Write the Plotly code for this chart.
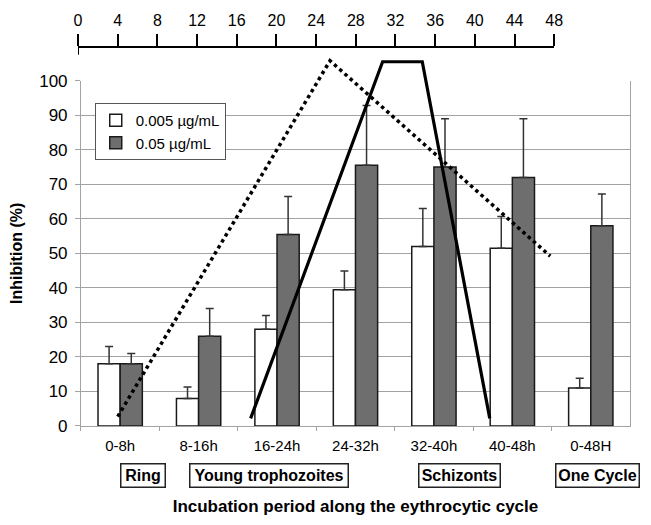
import plotly.graph_objects as go

# ---- data ----
categories = ["0-8h", "8-16h", "16-24h", "24-32h", "32-40h", "40-48h", "0-48H"]
series_names = ["0.005 µg/mL", "0.05 µg/mL"]
low_dose = [18, 8, 28, 39.5, 52, 51.5, 11]
low_dose_err = [5, 3.3, 4, 5.4, 11, 9.2, 2.8]
high_dose = [18, 26, 55.5, 75.5, 75, 72, 58]
high_dose_err = [3, 8, 11, 17.3, 14, 17, 9.2]

# stage curves on the top hour axis (hours, % inhibition scale)
dotted_hours = [4, 25.4, 47.6]
dotted_vals = [2.7, 105.8, 49.2]
solid_hours = [17.4, 30.7, 34.7, 41.5]
solid_vals = [2.2, 105.5, 105.5, 2.2]

top_ticks = list(range(0, 49, 4))
stage_labels = ["Ring", "Young trophozoites", "Schizonts", "One Cycle"]

# ---- layout geometry (pixels) ----
W, H = 651, 525
ML, MR, MT, MB = 78, 12, 30, 95
PW, PH = W - ML - MR, H - MT - MB
Y0 = H - MB  # pixel of y = 0
PX_PER_UNIT = 3.505


def px_x(px):
    return (px - ML) / PW


def px_y(py):
    return (Y0 - py) / PH


FONT = "Liberation Sans, Arial, sans-serif"
OUTLINE = "#1a1a1a"
GRID = "#a3a3a3"

fig = go.Figure()

fig.add_trace(go.Bar(
    x=categories, y=low_dose, name=series_names[0],
    marker=dict(color="white", line=dict(color=OUTLINE, width=1.5)),
    error_y=dict(type="data", symmetric=False, array=low_dose_err,
                 arrayminus=[0] * len(low_dose), color="#333333",
                 thickness=1.5, width=4),
))
fig.add_trace(go.Bar(
    x=categories, y=high_dose, name=series_names[1],
    marker=dict(color="#6e6e6e", line=dict(color=OUTLINE, width=1.5)),
    error_y=dict(type="data", symmetric=False, array=high_dose_err,
                 arrayminus=[0] * len(high_dose), color="#333333",
                 thickness=1.5, width=4),
))

fig.add_trace(go.Scatter(
    x=dotted_hours, y=dotted_vals, mode="lines",
    line=dict(color="black", width=3.5, dash="dot"),
    showlegend=False, hoverinfo="skip", xaxis="x2", yaxis="y2",
))
fig.add_trace(go.Scatter(
    x=solid_hours, y=solid_vals, mode="lines",
    line=dict(color="black", width=3.2),
    showlegend=False, hoverinfo="skip", xaxis="x2", yaxis="y2",
))

y_top_px = Y0 - 100 * PX_PER_UNIT
y2_top_px = 54
y2_range_top = (Y0 - y2_top_px) / PX_PER_UNIT
TOP_AXIS_PX = 45

annotations = []
box_centers = [144, 272, 465.5, 605.5]
box_widths = [46, 160, 83, 85]
for lab, cx, bw in zip(stage_labels, box_centers, box_widths):
    annotations.append(dict(
        text="<b>%s</b>" % lab, xref="paper", yref="paper",
        x=px_x(cx), y=px_y(480.5), xanchor="center", yanchor="middle",
        showarrow=False, font=dict(family=FONT, size=16, color="black"),
        bordercolor="#222222", borderwidth=1.5, borderpad=1,
        width=bw - 5, height=25 - 5, bgcolor="white",
    ))

fig.update_layout(
    width=W, height=H,
    margin=dict(l=ML, r=MR, t=MT, b=MB, pad=0),
    paper_bgcolor="white", plot_bgcolor="rgba(0,0,0,0)",
    font=dict(family=FONT, size=15, color="black"),
    barmode="group", bargap=0.435, bargroupgap=0,
    showlegend=True,
    legend=dict(x=px_x(95), y=px_y(102), xanchor="left", yanchor="top",
                bgcolor="white", bordercolor="#555555", borderwidth=1,
                font=dict(family=FONT, size=15, color="black"),
                itemwidth=30, tracegroupgap=0),
    xaxis=dict(
        domain=[px_x(81), 1], type="category", anchor="y",
        showline=True, linecolor=GRID, linewidth=1,
        ticks="outside", tickson="boundaries", ticklen=4, tickcolor=GRID,
        showgrid=False, tickfont=dict(size=15), ticklabelstandoff=6,
        title=dict(text="<b>Incubation period along the eythrocytic cycle</b>",
                   font=dict(size=17), standoff=47),
    ),
    yaxis=dict(
        domain=[0, px_y(y_top_px)], range=[0, 100], anchor="x",
        tickvals=list(range(0, 101, 10)),
        showline=True, mirror=True, linecolor=GRID, linewidth=1,
        ticks="outside", ticklen=5, tickcolor=GRID,
        showgrid=True, gridcolor=GRID, gridwidth=1, zeroline=False,
        tickfont=dict(size=17), ticklabelstandoff=4,
        title=dict(text="<b>Inhibition (%)</b>", font=dict(size=16), standoff=12),
    ),
    xaxis2=dict(
        domain=[0, px_x(562)], range=[0, 48], anchor="free",
        position=px_y(TOP_AXIS_PX), side="top",
        tickvals=top_ticks, showline=True, linecolor="black", linewidth=2,
        ticks="outside", ticklen=12, tickwidth=2, tickcolor="black",
        showgrid=False, zeroline=False, tickfont=dict(size=16),
        ticklabelstandoff=1,
    ),
    yaxis2=dict(
        domain=[0, px_y(y2_top_px)], range=[0, y2_range_top], anchor="x2",
        visible=False, showgrid=False, zeroline=False,
    ),
    annotations=annotations,
    shapes=[dict(type="line", xref="x2", yref="paper", x0=0, x1=0,
                 y0=px_y(TOP_AXIS_PX), y1=px_y(TOP_AXIS_PX + 8),
                 line=dict(color="black", width=2))],
)

fig.write_html(
    "out.html",
    config={"displayModeBar": False},
    post_script="document.body.style.margin='0px';document.body.style.overflow='hidden';",
)
